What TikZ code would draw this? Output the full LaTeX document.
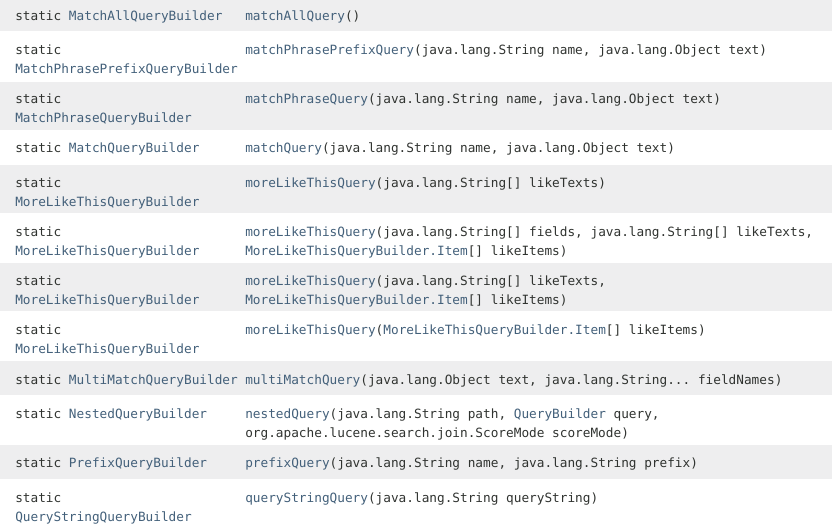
\documentclass[tikz,border=0pt]{standalone}
\usepackage{fontspec}
\setmonofont{DejaVu Sans Mono}
\definecolor{linkblue}{HTML}{43607A}
\definecolor{plaindark}{HTML}{303330}
\definecolor{rowgrey}{HTML}{EEEEEF}
\newcommand{\lk}[1]{\textcolor{linkblue}{#1}}
\tikzset{
	cell/.style={anchor=base west, inner sep=0pt, text=plaindark, font=\ttfamily\fontsize{9.56}{11}\selectfont},
	greyrow/.style={fill=rowgrey, draw=none}
}
\begin{document}
\begin{tikzpicture}[x=0.75pt,y=-0.75pt]
			\useasboundingbox (0,0) rectangle (832,526);
			
			\fill[greyrow](0,0) rectangle (832,31);
			\fill[greyrow](0,82) rectangle (832,130);
			\fill[greyrow](0,165) rectangle (832,213);
			\fill[greyrow](0,263) rectangle (832,311);
			\fill[greyrow](0,361) rectangle (832,395);
			\fill[greyrow](0,445) rectangle (832,479);
			
			\node[cell](t1) at (15,20) {static \lk{MatchAllQueryBuilder}};
			\node[cell](m1) at (245,20) {\lk{matchAllQuery}()};
			
			\node[cell](t2a) at (15,54) {static};
			\node[cell](t2b) at (15,73) {\lk{MatchPhrasePrefixQueryBuilder}};
			\node[cell](m2) at (245,54) {\lk{matchPhrasePrefixQuery}(java.lang.String name, java.lang.Object text)};
			
			\node[cell](t3a) at (15,103) {static};
			\node[cell](t3b) at (15,122) {\lk{MatchPhraseQueryBuilder}};
			\node[cell](m3) at (245,103) {\lk{matchPhraseQuery}(java.lang.String name, java.lang.Object text)};
			
			\node[cell](t4) at (15,152) {static \lk{MatchQueryBuilder}};
			\node[cell](m4) at (245,152) {\lk{matchQuery}(java.lang.String name, java.lang.Object text)};
			
			\node[cell](t5a) at (15,187) {static};
			\node[cell](t5b) at (15,206) {\lk{MoreLikeThisQueryBuilder}};
			\node[cell](m5) at (245,187) {\lk{moreLikeThisQuery}(java.lang.String[] likeTexts)};
			
			\node[cell](t6a) at (15,236) {static};
			\node[cell](t6b) at (15,255) {\lk{MoreLikeThisQueryBuilder}};
			\node[cell](m6a) at (245,236) {\lk{moreLikeThisQuery}(java.lang.String[] fields, java.lang.String[] likeTexts,};
			\node[cell](m6b) at (245,255) {\lk{MoreLikeThisQueryBuilder.Item}[] likeItems)};
			
			\node[cell](t7a) at (15,285) {static};
			\node[cell](t7b) at (15,304) {\lk{MoreLikeThisQueryBuilder}};
			\node[cell](m7a) at (245,285) {\lk{moreLikeThisQuery}(java.lang.String[] likeTexts,};
			\node[cell](m7b) at (245,304) {\lk{MoreLikeThisQueryBuilder.Item}[] likeItems)};
			
			\node[cell](t8a) at (15,334) {static};
			\node[cell](t8b) at (15,353) {\lk{MoreLikeThisQueryBuilder}};
			\node[cell](m8) at (245,334) {\lk{moreLikeThisQuery}(\lk{MoreLikeThisQueryBuilder.Item}[] likeItems)};
			
			\node[cell](t9) at (15,384) {static \lk{MultiMatchQueryBuilder}};
			\node[cell](m9) at (245,384) {\lk{multiMatchQuery}(java.lang.Object text, java.lang.String... fieldNames)};
			
			\node[cell](t10) at (15,418) {static \lk{NestedQueryBuilder}};
			\node[cell](m10a) at (245,418) {\lk{nestedQuery}(java.lang.String path, \lk{QueryBuilder} query,};
			\node[cell](m10b) at (245,437) {org.apache.lucene.search.join.ScoreMode scoreMode)};
			
			\node[cell](t11) at (15,467) {static \lk{PrefixQueryBuilder}};
			\node[cell](m11) at (245,467) {\lk{prefixQuery}(java.lang.String name, java.lang.String prefix)};
			
			\node[cell](t12a) at (15,502) {static};
			\node[cell](t12b) at (15,521) {\lk{QueryStringQueryBuilder}};
			\node[cell](m12) at (245,502) {\lk{queryStringQuery}(java.lang.String queryString)};
			\end{tikzpicture}
\end{document}
